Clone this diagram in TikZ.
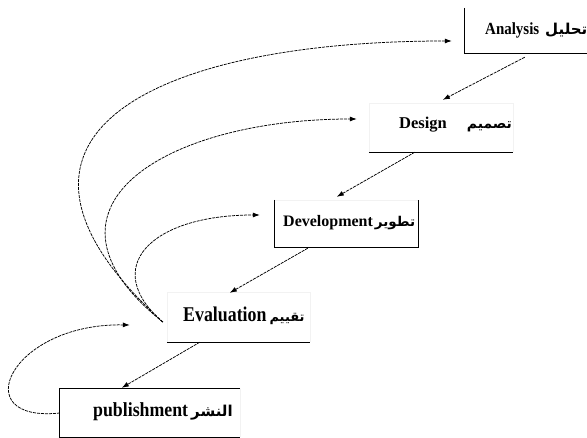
\documentclass[tikz,border=0pt]{standalone}
\usepackage{graphicx}
\usepackage{fontspec}
\setmainfont{Liberation Serif}
\newfontfamily\arabicfont[Script=Arabic]{DejaVu Sans}
\TeXXeTstate=1
\usetikzlibrary{arrows.meta,calc}
\begin{document}
\begin{tikzpicture}[x=1pt,y=1pt,
  boxshape/.style={rectangle, draw=none, inner sep=0pt},
  faint/.style={draw=black!5, line width=0.5pt},
  edge/.style={line width=1pt},
  flow/.style={line width=0.75pt, dash pattern=on 3pt off 1pt, -{Latex[length=7pt,width=5pt]}},
  lbl/.style={anchor=base west, inner sep=0pt, font=\bfseries}]
\useasboundingbox (0,0) rectangle (587,438);
\clip (0,0) rectangle (587,438);
\fill[white] (0,0) rectangle (587,438);

% boxes
\node[boxshape, minimum width=125pt, minimum height=45pt] (an) at (527.5,407.5) {};
\node[boxshape, minimum width=144pt, minimum height=49pt] (de) at (441,310.5) {};
\node[boxshape, minimum width=143pt, minimum height=47pt] (dv) at (346.5,214.5) {};
\node[boxshape, minimum width=143pt, minimum height=50pt] (ev) at (238.5,121) {};
\node[boxshape, minimum width=180pt, minimum height=48pt] (pu) at (150,25) {};

\draw[edge] (an.north west) -- (an.south west) -- (an.south east);
\draw[faint] (de.south west) -- (de.north west) -- (de.north east) -- (de.south east);
\draw[edge] (de.south west) -- (de.south east);
\draw[faint] (dv.north west) -- (dv.north east);
\draw[edge] (dv.north west) -- (dv.south west) -- (dv.south east) -- (dv.north east);
\draw[faint] (ev.south west) -- (ev.north west) -- (ev.north east) -- (ev.south east);
\draw[edge] (ev.south west) -- (ev.south east);
\draw[faint] (pu.north east) -- (pu.south east);
\draw[edge] (pu.north east) -- (pu.north west) -- (pu.south west) -- (pu.south east);

% labels
\node[lbl] (ant) at (485,403) {\fontsize{17}{17}\selectfont\scalebox{0.88}[1]{Analysis}\hspace{6pt}{\arabicfont\fontsize{15}{15}\selectfont\beginR تحليل\endR}};
\node[lbl] (det) at (399,309) {\fontsize{16.5}{16.5}\selectfont Design\hspace{20pt}{\arabicfont\fontsize{14}{14}\selectfont\beginR تصميم\endR}};
\node[lbl] (dvt) at (283,211) {\fontsize{16}{16}\selectfont Development\hspace{2pt}{\arabicfont\fontsize{13.5}{13.5}\selectfont\beginR تطوير\endR}};
\node[lbl] (evt) at (183,116) {\fontsize{21}{21}\selectfont\scalebox{0.85}[1]{Evaluation}\hspace{3pt}{\arabicfont\fontsize{13}{13}\selectfont\beginR تقييم\endR}};
\node[lbl] (put) at (93,21) {\fontsize{20}{20}\selectfont\scalebox{0.89}[1]{publishment}\hspace{3pt}{\arabicfont\fontsize{15}{15}\selectfont\beginR النشر\endR}};

% forward flow
\draw[flow] ($(an.south west)+(60,-4)$) -- ($(de.north west)+(74,3)$);
\draw[flow] ($(de.south west)+(46,0)$) -- ($(dv.north west)+(62,3)$);
\draw[flow] ($(dv.south west)+(33,-1)$) -- ($(ev.north west)+(63,-1)$);
\draw[flow] ($(ev.south west)+(33,0)$) -- ($(pu.north west)+(62,1)$);

% feedback loops
\draw[flow] ($(ev.west)+(-4,-5)$) .. controls (-40,300) and (150,397) .. ($(an.west)+(-13,-10.5)$);
\draw[flow] ($(ev.west)+(-4,-5)$) .. controls (20,230) and (165,319) .. ($(de.west)+(-12,8.5)$);
\draw[flow] ($(ev.west)+(-4,-5)$) .. controls (100,170) and (150,223) .. ($(dv.west)+(-15,8.5)$);
\draw[flow] (pu.west) .. controls (-35,15) and (10,115) .. ($(ev.west)+(-37,-8)$);
\end{tikzpicture}
\end{document}
